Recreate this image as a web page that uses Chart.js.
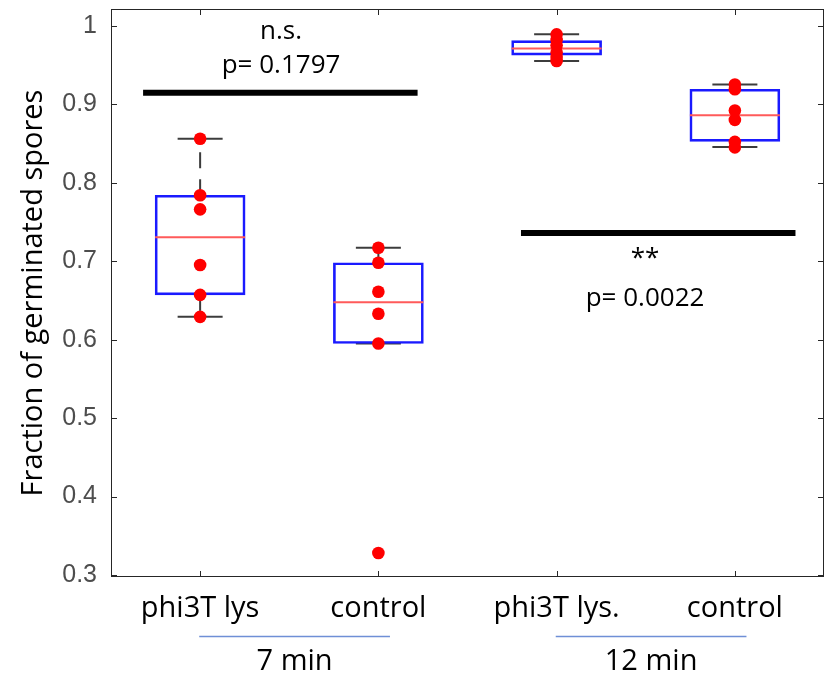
<!DOCTYPE html>
<html>
<head>
<meta charset="utf-8">
<script src="https://cdn.jsdelivr.net/npm/chart.js@4"></script>
<style>
    body { margin: 0; background: #ffffff; }
    #wrap { width: 827px; height: 678px; }
</style>
</head>
<body>
<div id="wrap"><canvas id="sporeChart"></canvas></div>
<script>
// categories and groups along the x axis
const categories = ['phi3T lys', 'control', 'phi3T lys.', 'control'];
const groupLabels = ['7 min', '12 min'];

// individual measurements per category
const samples = [
    [0.856, 0.784, 0.766, 0.695, 0.657, 0.629],
    [0.717, 0.698, 0.661, 0.633, 0.595, 0.328],
    [0.989, 0.982, 0.975, 0.966, 0.960, 0.955],
    [0.925, 0.919, 0.892, 0.880, 0.852, 0.845]
];

// box plot statistics
const q1 = [0.657, 0.595, 0.9626, 0.8527];
const medians = [0.7306, 0.6475, 0.971, 0.886];
const q3 = [0.784, 0.698, 0.981, 0.919];
const whiskerLow = [0.629, 0.595, 0.955, 0.8455];
const whiskerHigh = [0.856, 0.717, 0.989, 0.925];

// y tick labels
const yTicks = [0.3, 0.4, 0.5, 0.6, 0.7, 0.8, 0.9, 1];

// significance bars and their notes
const sigLines = [
    { from: 0.68, to: 2.22, y: 0.9145 },
    { from: 2.80, to: 4.34, y: 0.736 }
];
const sigNotes = [
    { x: 1.454, y: 0.9826, text: 'n.s.' },
    { x: 1.454, y: 0.9392, text: 'p= 0.1797' },
    { x: 3.496, y: 0.694, text: '**' },
    { x: 3.496, y: 0.6433, text: 'p= 0.0022' }
];

const LABEL_FONT = '"Open Sans", "Noto Sans", sans-serif';

// one dataset per whisker so the upper/lower parts can be dashed
const whiskerSets = [];
categories.forEach((c, i) => {
    [[q3[i], whiskerHigh[i]], [q1[i], whiskerLow[i]]].forEach(([a, b]) => {
        whiskerSets.push({
            type: 'line',
            data: [{ x: i + 1, y: a }, { x: i + 1, y: b }],
            borderColor: '#3c3c3c',
            borderWidth: 2,
            borderDash: [16, 11],
            pointRadius: 0,
            order: 4
        });
    });
});

const sigSets = sigLines.map(s => ({
    type: 'line',
    data: [{ x: s.from, y: s.y }, { x: s.to, y: s.y }],
    borderColor: '#000000',
    borderWidth: 6,
    pointRadius: 0,
    order: 5
}));

// frame, inward ticks, group labels and notes
const decorations = {
    id: 'decorations',
    afterDatasetsDraw(chart) {
        const { ctx, chartArea: a, scales: { x, y } } = chart;
        ctx.save();
        ctx.strokeStyle = '#262626';
        ctx.lineWidth = 1;
        ctx.strokeRect(a.left + 0.5, a.top + 0.5, a.right - a.left - 1, a.bottom - a.top - 1);
        ctx.beginPath();
        yTicks.forEach(v => {
            const py = Math.round(y.getPixelForValue(v)) + 0.5;
            ctx.moveTo(a.left, py); ctx.lineTo(a.left + 6, py);
            ctx.moveTo(a.right, py); ctx.lineTo(a.right - 6, py);
        });
        categories.forEach((c, i) => {
            const px = Math.round(x.getPixelForValue(i + 1)) + 0.5;
            ctx.moveTo(px, a.bottom); ctx.lineTo(px, a.bottom - 6);
            ctx.moveTo(px, a.top); ctx.lineTo(px, a.top + 6);
        });
        ctx.stroke();

        ctx.fillStyle = '#000000';
        ctx.textAlign = 'center';
        ctx.textBaseline = 'alphabetic';
        ctx.font = '26px ' + LABEL_FONT;
        sigNotes.forEach(n => {
            ctx.fillText(n.text, x.getPixelForValue(n.x), y.getPixelForValue(n.y));
        });
        ctx.restore();
    },
    afterDraw(chart) {
        const { ctx, scales: { x } } = chart;
        ctx.save();
        groupLabels.forEach((g, k) => {
            const x1 = x.getPixelForValue(2 * k + 1 - 0.005);
            const x2 = x.getPixelForValue(2 * k + 2 + 0.065);
            ctx.strokeStyle = '#6f8fd6';
            ctx.lineWidth = 1.5;
            ctx.beginPath();
            ctx.moveTo(x1, 636.5);
            ctx.lineTo(x2, 636.5);
            ctx.stroke();
            ctx.fillStyle = '#000000';
            ctx.font = '29px ' + LABEL_FONT;
            ctx.textAlign = 'center';
            ctx.textBaseline = 'alphabetic';
            ctx.fillText(g, (x1 + x2) / 2, 670);
        });
        ctx.restore();
    }
};

const noPad = s => {
    s.paddingLeft = 0; s.paddingRight = 0; s.paddingTop = 0; s.paddingBottom = 0;
};

new Chart(document.getElementById('sporeChart'), {
    type: 'scatter',
    data: {
        datasets: [
            {
                label: 'samples',
                data: samples.flatMap((s, i) => s.map(v => ({ x: i + 1, y: v }))),
                backgroundColor: '#ff0000',
                borderWidth: 0,
                pointRadius: 6.3,
                order: 0
            },
            {
                label: 'median',
                data: medians.map((m, i) => ({ x: i + 1, y: m })),
                pointStyle: 'line',
                pointRadius: 45,
                borderColor: '#ff5a5a',
                borderWidth: 2,
                order: 1
            },
            {
                type: 'bar',
                label: 'box',
                data: categories.map((c, i) => ({ x: i + 1, y: [q1[i], q3[i]] })),
                barThickness: 90,
                backgroundColor: 'rgba(0,0,0,0)',
                borderColor: '#1a1aff',
                borderWidth: 2,
                borderSkipped: false,
                order: 2
            },
            {
                label: 'caps',
                data: whiskerLow.concat(whiskerHigh).map((v, i) => ({ x: (i % 4) + 1, y: v })),
                pointStyle: 'line',
                pointRadius: 22.5,
                borderColor: '#3c3c3c',
                borderWidth: 2,
                order: 3
            },
            ...whiskerSets,
            ...sigSets
        ]
    },
    options: {
        responsive: true,
        maintainAspectRatio: false,
        animation: false,
        layout: { autoPadding: false, padding: { top: 9, right: 3, left: 0, bottom: 0 } },
        plugins: {
            legend: { display: false },
            tooltip: { enabled: false }
        },
        scales: {
            x: {
                type: 'linear',
                min: 0.5,
                max: 4.5,
                offset: false,
                grid: { display: false, drawTicks: false, offset: false },
                border: { display: false },
                afterBuildTicks: s => { s.ticks = categories.map((c, i) => ({ value: i + 1 })); },
                afterFit: s => { s.height = 101; noPad(s); },
                ticks: {
                    padding: 14,
                    maxRotation: 0,
                    color: '#000000',
                    font: { family: LABEL_FONT, size: 29 },
                    callback: (v, i) => categories[i]
                }
            },
            y: {
                min: 0.2975,
                max: 1.0213,
                grid: { display: false, drawTicks: false },
                border: { display: false },
                afterBuildTicks: s => { s.ticks = yTicks.map(v => ({ value: v })); },
                afterFit: s => { s.width = 111; noPad(s); },
                title: {
                    display: true,
                    text: 'Fraction of germinated spores',
                    color: '#000000',
                    font: { family: LABEL_FONT, size: 29 },
                    padding: { top: 16, bottom: 0 }
                },
                ticks: {
                    padding: 14,
                    color: '#4d4d4d',
                    font: { family: '"Liberation Sans", Arial, sans-serif', size: 25 },
                    callback: v => (v === 1 ? '1' : v.toFixed(1))
                }
            }
        }
    },
    plugins: [decorations]
});
</script>
</body>
</html>
